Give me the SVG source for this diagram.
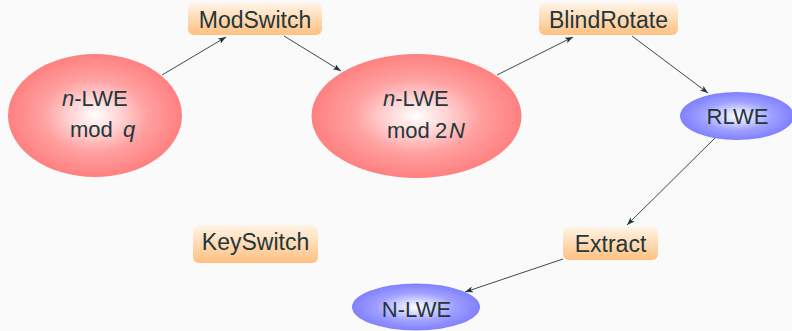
<svg xmlns="http://www.w3.org/2000/svg" width="792" height="331" viewBox="0 0 792 331">
  <defs>
    <radialGradient id="redBall" cx="50%" cy="50%" r="50%">
      <stop offset="0" stop-color="#ffffff"/>
      <stop offset="0.3" stop-color="#ffd2d2"/>
      <stop offset="0.6" stop-color="#ffa0a0"/>
      <stop offset="1" stop-color="#ff8080"/>
    </radialGradient>
    <radialGradient id="blueBall" cx="50%" cy="50%" r="50%">
      <stop offset="0" stop-color="#ffffff"/>
      <stop offset="0.3" stop-color="#d2d2ff"/>
      <stop offset="0.6" stop-color="#a0a0ff"/>
      <stop offset="1" stop-color="#8080ff"/>
    </radialGradient>
    <linearGradient id="boxFill" x1="0" y1="0" x2="0" y2="1">
      <stop offset="0" stop-color="#fff4e6"/>
      <stop offset="1" stop-color="#ffc080"/>
    </linearGradient>
    <marker id="tip" markerUnits="userSpaceOnUse" markerWidth="10" markerHeight="8" refX="8" refY="3" orient="auto">
      <path d="M0,0 L8,3 L0,6 L2,3 z" fill="#23373b"/>
    </marker>
  </defs>
  <style>
    text { font-family: "Liberation Sans", Arial, sans-serif; font-size: 22px; fill: #23373b; }
    .lbl { font-size: 23px; }
    .c { text-anchor: middle; }
    .it { font-style: italic; }
    .box { fill: url(#boxFill); }
    .red { fill: url(#redBall); }
    .blue { fill: url(#blueBall); }
    .edge { stroke: #23373b; stroke-width: 0.9; fill: none; marker-end: url(#tip); }
  </style>
  <rect width="792" height="331" fill="#fafafa"/>

  <!-- connectors -->
  <g id="edges">
    <line class="edge" x1="162" y1="75" x2="226" y2="37"/>
    <line class="edge" x1="284" y1="36" x2="341" y2="71"/>
    <line class="edge" x1="497" y1="75" x2="573" y2="37"/>
    <line class="edge" x1="632" y1="36" x2="708" y2="93"/>
    <line class="edge" x1="716" y1="137" x2="627" y2="225"/>
    <line class="edge" x1="563" y1="259" x2="465" y2="292"/>
  </g>

  <g id="lwe-q">
    <ellipse class="red" cx="95" cy="115.5" rx="87" ry="61.5"/>
    <text x="62" y="106"><tspan class="it">n</tspan>-LWE</text>
    <text x="70" y="137">mod</text>
    <text class="it" x="123" y="137">q</text>
  </g>

  <g id="lwe-2n">
    <ellipse class="red" cx="416.5" cy="116" rx="105" ry="62"/>
    <text x="383" y="106"><tspan class="it">n</tspan>-LWE</text>
    <text x="387" y="138">mod</text>
    <text x="435" y="138">2</text>
    <text class="it" x="449" y="138">N</text>
  </g>

  <g id="modswitch">
    <rect class="box" x="188" y="3" width="134" height="32" rx="6"/>
    <text class="c lbl" x="255" y="28">ModSwitch</text>
  </g>

  <g id="blindrotate">
    <rect class="box" x="539" y="3" width="139" height="32" rx="6"/>
    <text class="c lbl" x="608.5" y="28">BlindRotate</text>
  </g>

  <g id="rlwe">
    <ellipse class="blue" cx="737" cy="116" rx="57" ry="24"/>
    <text class="c" x="737.5" y="123.5">RLWE</text>
  </g>

  <g id="keyswitch">
    <rect class="box" x="193" y="225" width="125" height="38" rx="6"/>
    <text class="c lbl" x="255.5" y="250">KeySwitch</text>
  </g>

  <g id="extract">
    <rect class="box" x="563" y="227" width="95" height="33" rx="6"/>
    <text class="c lbl" x="610.5" y="252">Extract</text>
  </g>

  <g id="n-lwe">
    <ellipse class="blue" cx="416" cy="307" rx="64" ry="23.5"/>
    <text class="c" x="416.5" y="316.5">N-LWE</text>
  </g>
</svg>
